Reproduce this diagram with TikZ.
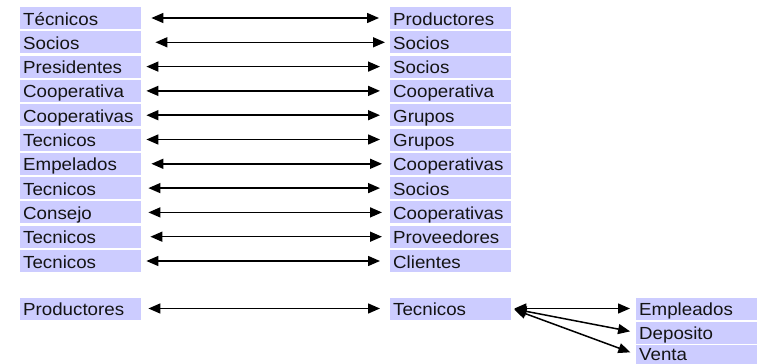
\documentclass[tikz,border=0pt]{standalone}
\usepackage{fontspec}
\setmainfont{Liberation Sans}[FakeStretch=1.07]
\usetikzlibrary{arrows.meta}
\definecolor{boxfill}{RGB}{204,204,255}
\definecolor{txt}{RGB}{20,20,20}
\tikzset{
  box/.style={anchor=west, fill=boxfill, minimum height=22pt, text width=115pt,
    inner xsep=3pt, inner ysep=0pt, text height=18pt, text depth=4pt,
    font=\fontsize{17.5}{20}\selectfont, align=left, text=txt},
  lastbox/.style={box, minimum height=19pt, text height=16pt, text depth=3pt},
  tip/.tip={Triangle[length=12pt,width=10pt]},
  link/.style={tip-tip, line width=1.5pt, shorten <=8pt, shorten >=10pt},
  fan/.style={tip-tip, line width=1.5pt, shorten <=3pt, shorten >=6pt}
}
\begin{document}
\begin{tikzpicture}[x=1pt,y=-1pt]
\useasboundingbox (0,0) rectangle (764,364);
% left column
\node[box] (l1)  at (20,18.0)  {Técnicos};
\node[box] (l2)  at (20,42.3)  {Socios};
\node[box] (l3)  at (20,66.6)  {Presidentes};
\node[box] (l4)  at (20,90.9)  {Cooperativa};
\node[box] (l5)  at (20,115.2) {Cooperativas};
\node[box] (l6)  at (20,139.5) {Tecnicos};
\node[box] (l7)  at (20,163.8) {Empelados};
\node[box] (l8)  at (20,188.1) {Tecnicos};
\node[box] (l9)  at (20,212.4) {Consejo};
\node[box] (l10) at (20,236.7) {Tecnicos};
\node[box] (l11) at (20,261.0) {Tecnicos};
\node[box] (l12) at (20,308.5) {Productores};
% right column
\node[box] (r1)  at (390,18.0)  {Productores};
\node[box] (r2)  at (390,42.3)  {Socios};
\node[box] (r3)  at (390,66.6)  {Socios};
\node[box] (r4)  at (390,90.9)  {Cooperativa};
\node[box] (r5)  at (390,115.2) {Grupos};
\node[box] (r6)  at (390,139.5) {Grupos};
\node[box] (r7)  at (390,163.8) {Cooperativas};
\node[box] (r8)  at (390,188.1) {Socios};
\node[box] (r9)  at (390,212.4) {Cooperativas};
\node[box] (r10) at (390,236.7) {Proveedores};
\node[box] (r11) at (390,261.0) {Clientes};
\node[box] (r12) at (390,308.5) {Tecnicos};
% third column
\node[box] (e1) at (636,308.5) {Empleados};
\node[box] (e2) at (636,332.5) {Deposito};
\node[lastbox] (e3) at (636,354.4) {Venta};
% connectors
\draw[link, shorten <=10pt, shorten >=11pt] (l1) -- (r1);
\draw[link, shorten <=14pt, shorten >=5pt] (l2) -- (r2);
\draw[link, shorten <=5pt] (l3) -- (r3);
\draw[link, shorten <=5pt] (l4) -- (r4);
\draw[link, shorten <=5pt] (l5) -- (r5);
\draw[link, shorten <=5pt] (l6) -- (r6);
\draw[link, shorten <=10pt, shorten >=8pt] (l7) -- (r7);
\draw[link, shorten <=7pt] (l8) -- (r8);
\draw[link, shorten <=7pt, shorten >=8pt] (l9) -- (r9);
\draw[link, shorten <=9pt, shorten >=8pt] (l10) -- (r10);
\draw[link, shorten <=5pt] (l11) -- (r11);
\draw[link, shorten <=7pt] (l12) -- (r12);
\draw[fan] (r12.east) -- (e1.west);
\draw[fan] (r12.east) -- (e2.west);
\draw[fan] (r12.east) -- (e3.west);
\end{tikzpicture}
\end{document}
